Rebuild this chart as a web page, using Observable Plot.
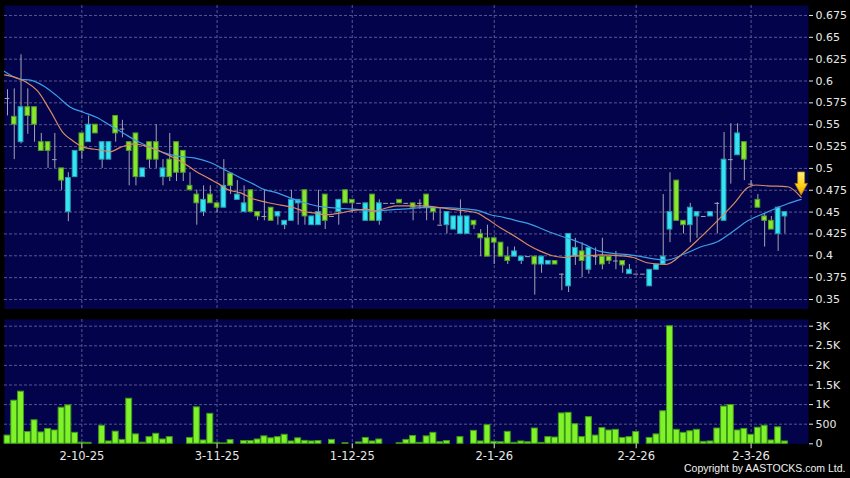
<!DOCTYPE html>
<html><head><meta charset="utf-8">
<script src="https://cdn.jsdelivr.net/npm/d3@7"></script>
<script src="https://cdn.jsdelivr.net/npm/@observablehq/plot@0.6"></script>
<style>
html,body{margin:0;padding:0;background:#000;}
#chart{position:relative;width:850px;height:478px;overflow:hidden;background:#000;}
#chart svg{display:block;}
</style></head><body><div id="chart"></div>
<script>
const dates = [
"16-9-25","17-9-25","18-9-25","19-9-25","22-9-25","23-9-25","24-9-25","25-9-25","26-9-25","29-9-25","30-9-25",
"2-10-25","3-10-25","6-10-25","8-10-25","9-10-25","10-10-25","13-10-25","14-10-25","15-10-25","16-10-25","17-10-25","20-10-25","21-10-25","22-10-25","23-10-25","24-10-25","27-10-25","28-10-25","30-10-25","31-10-25",
"3-11-25","4-11-25","5-11-25","6-11-25","7-11-25","10-11-25","11-11-25","12-11-25","13-11-25","14-11-25","17-11-25","18-11-25","19-11-25","20-11-25","21-11-25","24-11-25","25-11-25","26-11-25","27-11-25","28-11-25",
"1-12-25","2-12-25","3-12-25","4-12-25","5-12-25","8-12-25","9-12-25","10-12-25","11-12-25","12-12-25","15-12-25","16-12-25","17-12-25","18-12-25","19-12-25","22-12-25","23-12-25","24-12-25","29-12-25","30-12-25","31-12-25",
"2-1-26","5-1-26","6-1-26","7-1-26","8-1-26","9-1-26","12-1-26","13-1-26","14-1-26","15-1-26","16-1-26","19-1-26","20-1-26","21-1-26","22-1-26","23-1-26","26-1-26","27-1-26","28-1-26","29-1-26","30-1-26",
"2-2-26","3-2-26","4-2-26","5-2-26","6-2-26","9-2-26","10-2-26","11-2-26","12-2-26","13-2-26","16-2-26","20-2-26","23-2-26","24-2-26","25-2-26","26-2-26","27-2-26",
"2-3-26","3-3-26","4-3-26","5-3-26","6-3-26","9-3-26"];

const open = [
0.58,0.559,0.53,0.57,0.57,0.53,0.53,0.51,0.50,0.45,
0.49,0.54,0.53,0.55,0.51,0.51,0.56,0.545,0.53,0.54,
0.49,0.53,0.53,0.49,0.51,0.53,0.52,0.48,0.47,0.45,
0.47,0.46,0.455,0.494,0.464,0.45,0.475,0.45,0.445,0.455,
0.445,0.435,0.44,0.46,0.475,0.435,0.435,0.47,0.445,0.45,
0.475,0.464,0.46,0.44,0.47,0.44,0.46,0.46,0.464,0.46,
0.46,0.46,0.47,0.455,0.435,0.435,0.43,0.425,0.425,0.44,
0.425,0.42,0.42,0.415,0.399,0.399,0.394,0.399,0.399,0.39,
0.39,0.394,0.379,0.365,0.399,0.405,0.384,0.399,0.399,0.399,
0.394,0.394,0.379,0.379,0.379,0.365,0.384,0.39,0.43,0.486,
0.44,0.435,0.445,0.445,0.445,0.46,0.44,0.51,0.515,0.53,
0.482,0.464,0.445,0.44,0.425,0.445];
const close = [
0.58,0.55,0.57,0.56,0.55,0.52,0.52,0.51,0.486,0.489,
0.52,0.52,0.55,0.54,0.53,0.53,0.54,0.545,0.52,0.49,
0.50,0.51,0.51,0.50,0.49,0.495,0.495,0.475,0.46,0.464,
0.46,0.455,0.48,0.48,0.47,0.46,0.45,0.445,0.445,0.44,
0.45,0.44,0.464,0.464,0.445,0.445,0.45,0.44,0.445,0.464,
0.46,0.46,0.46,0.46,0.44,0.46,0.46,0.46,0.46,0.46,
0.455,0.46,0.455,0.45,0.435,0.45,0.445,0.445,0.445,0.435,
0.42,0.399,0.415,0.399,0.394,0.405,0.399,0.399,0.39,0.399,
0.394,0.39,0.379,0.425,0.409,0.394,0.409,0.399,0.39,0.394,
0.394,0.389,0.384,0.379,0.379,0.384,0.39,0.399,0.45,0.44,
0.435,0.455,0.45,0.445,0.45,0.46,0.51,0.51,0.54,0.51,
0.482,0.455,0.44,0.43,0.455,0.45];
const high = [
0.59,0.591,0.63,0.591,0.57,0.54,0.53,0.54,0.50,0.495,
0.52,0.54,0.56,0.55,0.53,0.53,0.56,0.555,0.53,0.54,
0.50,0.53,0.55,0.51,0.54,0.53,0.52,0.495,0.475,0.48,
0.48,0.46,0.51,0.494,0.486,0.48,0.475,0.45,0.475,0.455,
0.45,0.44,0.475,0.464,0.475,0.445,0.475,0.47,0.445,0.464,
0.475,0.464,0.46,0.46,0.47,0.464,0.46,0.46,0.464,0.46,
0.46,0.464,0.47,0.455,0.455,0.45,0.445,0.464,0.445,0.44,
0.43,0.435,0.42,0.415,0.41,0.41,0.399,0.399,0.399,0.399,
0.394,0.394,0.379,0.425,0.42,0.415,0.409,0.409,0.42,0.399,
0.405,0.394,0.39,0.379,0.379,0.384,0.39,0.47,0.495,0.486,
0.44,0.46,0.45,0.445,0.45,0.461,0.541,0.551,0.551,0.53,
0.486,0.47,0.448,0.445,0.456,0.45];
const low = [
0.56,0.51,0.528,0.539,0.53,0.52,0.50,0.50,0.475,0.439,
0.49,0.51,0.53,0.54,0.50,0.51,0.53,0.535,0.48,0.48,
0.49,0.50,0.50,0.48,0.485,0.485,0.485,0.475,0.435,0.445,
0.46,0.449,0.455,0.47,0.464,0.45,0.45,0.44,0.44,0.44,
0.435,0.43,0.44,0.435,0.435,0.435,0.435,0.43,0.445,0.435,
0.46,0.449,0.46,0.44,0.44,0.435,0.46,0.46,0.46,0.46,
0.44,0.453,0.44,0.44,0.435,0.425,0.43,0.425,0.425,0.43,
0.399,0.399,0.39,0.399,0.39,0.399,0.39,0.399,0.355,0.38,
0.39,0.39,0.36,0.358,0.389,0.375,0.379,0.389,0.384,0.39,
0.384,0.38,0.379,0.379,0.379,0.365,0.384,0.39,0.415,0.44,
0.425,0.415,0.42,0.445,0.445,0.425,0.44,0.482,0.515,0.486,
0.48,0.455,0.41,0.43,0.405,0.425];
const volume = [
210,1100,1330,300,600,290,380,340,920,980,
280,30,25,0,460,60,310,100,1150,240,
30,170,255,110,170,0,0,150,930,85,
765,25,10,95,0,70,70,110,190,140,
170,230,60,140,75,60,70,0,100,0,
15,0,35,150,60,110,0,0,15,100,
200,25,190,280,40,70,0,170,0,330,
60,475,50,40,305,25,60,40,390,25,
170,160,775,790,500,170,680,210,400,340,
357,150,170,300,0,150,240,830,3000,357,
280,320,357,50,60,390,950,990,340,380,
230,410,460,85,420,60];

// moving averages: [bar position, value]
const ma10Pos = [-0.44,1.9,2.9,4.4,6.4,8.3,9.6,11.3,13.8,15.2,16.7,18.7,20.2,22.1,24.1,26.1,27.6,29.9,31.3,32.5,34.5,36.4,38.4,40.4,42.4,43.8,45.3,47.3,49.3,51.2,53.2,54.2,56.2,57.6,61.1,64.1,66.0,68.0,69.5,71.0,72.9,74.9,76.9,78.9,80.6,82.6,83.8,85.8,87.7,90.7,92.6,94.6,97.4,100.1,102.5,105.0,107.5,109.5,110.6,112.4,115.4,117.4];
const ma10Val = [0.607,0.602,0.598,0.589,0.565,0.540,0.532,0.524,0.521,0.519,0.524,0.528,0.526,0.521,0.514,0.506,0.498,0.488,0.482,0.476,0.472,0.465,0.461,0.458,0.455,0.451,0.449,0.447,0.449,0.452,0.453,0.451,0.455,0.457,0.457,0.455,0.453,0.451,0.449,0.442,0.432,0.423,0.413,0.405,0.400,0.398,0.400,0.400,0.401,0.400,0.398,0.392,0.390,0.404,0.421,0.440,0.460,0.478,0.481,0.480,0.479,0.467];
const ma20Pos = [-0.44,1.9,3.4,5.4,7.3,9.3,11.3,13.3,15.2,17.2,19.2,21.2,23.1,25.1,27.6,29.9,32.5,34.5,36.4,37.9,39.9,41.9,43.8,45.8,47.8,49.8,51.7,53.7,55.7,57.6,59.6,61.1,64.1,67.0,69.5,71.4,73.4,75.4,77.4,79.3,81.3,83.3,85.3,87.7,92.6,97.4,100.1,102.5,105.0,107.5,109.5,112.4,115.4,117.4];
const ma20Val = [0.611,0.602,0.601,0.594,0.583,0.570,0.564,0.558,0.549,0.540,0.531,0.524,0.518,0.514,0.512,0.507,0.497,0.489,0.482,0.476,0.472,0.466,0.461,0.457,0.455,0.454,0.453,0.451,0.452,0.453,0.454,0.455,0.455,0.454,0.452,0.447,0.444,0.440,0.436,0.430,0.424,0.419,0.413,0.405,0.4005,0.395,0.402,0.410,0.416,0.429,0.440,0.450,0.4596,0.4645];

const priceTicks = [0.35,0.375,0.4,0.425,0.45,0.475,0.5,0.525,0.55,0.575,0.6,0.625,0.65,0.675];
const priceTickLabels = ["0.35","0.375","0.4","0.425","0.45","0.475","0.5","0.525","0.55","0.575","0.6","0.625","0.65","0.675"];
const volTicks = [0,500,1000,1500,2000,2500,3000];
const volTickLabels = ["0","500","1K","1.5K","2K","2.5K","3K"];
const dateTicks = ["2-10-25","3-11-25","1-12-25","2-1-26","2-2-26","2-3-26"];
const copyright = "Copyright by AASTOCKS.com Ltd.";
const arrowMark = {pos: 117.4, value: 0.4828};

const rows = dates.map((d, i) => ({i, date: d, o: open[i], h: high[i], l: low[i], c: close[i], v: volume[i]}));
const bodies = rows.filter(d => d.o !== d.c);
const dojis = rows.filter(d => d.o === d.c);
const tickIdx = dateTicks.map(t => dates.indexOf(t));
const ma10 = ma10Pos.map((p, k) => ({p, v: ma10Val[k]}));
const ma20 = ma20Pos.map((p, k) => ({p, v: ma20Val[k]}));

const W = 850;
const xDomain = [-0.444, 118.49];
const navy = "#03034c";
const grid = "#56568e";
const wick = "#a4a4b4";
const upFill = "#33e4f4", upStroke = "#2a9fb0";
const dnFill = "#86e82c", dnStroke = "#579a2a";
const font = "DejaVu Sans, Verdana, sans-serif";
const hw = 0.35;

const arrowSymbol = {
  draw(ctx, size) {
    const r = Math.sqrt(size / Math.PI);
    ctx.moveTo(-0.3 * r, -r);
    ctx.lineTo(0.3 * r, -r);
    ctx.lineTo(0.3 * r, 0);
    ctx.lineTo(0.55 * r, 0);
    ctx.lineTo(0, r);
    ctx.lineTo(-0.55 * r, 0);
    ctx.lineTo(-0.3 * r, 0);
    ctx.closePath();
  }
};

const price = Plot.plot({
  width: W, height: 312,
  marginLeft: 4, marginRight: 42, marginTop: 5, marginBottom: 3.5,
  style: {background: "transparent", color: "#e8e8e8", fontFamily: font, fontSize: "11px"},
  x: {domain: xDomain, axis: null},
  y: {domain: [0.3391, 0.6864], axis: null},
  marks: [
    Plot.frame({fill: navy}),
    Plot.ruleY(priceTicks, {stroke: grid, strokeDasharray: "3,2"}),
    Plot.ruleX(tickIdx, {stroke: grid, strokeDasharray: "3,2"}),
    Plot.ruleX(rows, {x: "i", y1: "l", y2: "h", stroke: wick, strokeWidth: 1}),
    Plot.rect(bodies, {
      x1: d => d.i - hw, x2: d => d.i + hw, y1: "o", y2: "c",
      fill: d => d.c > d.o ? upFill : dnFill,
      stroke: d => d.c > d.o ? upStroke : dnStroke, strokeWidth: 1
    }),
    Plot.ruleY(dojis, {y: "c", x1: d => d.i - hw, x2: d => d.i + hw, stroke: wick, strokeWidth: 1}),
    Plot.line(ma20, {x: "p", y: "v", stroke: "#3c9ee6", strokeWidth: 1.2, curve: "monotone-x"}),
    Plot.line(ma10, {x: "p", y: "v", stroke: "#d98a62", strokeWidth: 1.2, curve: "monotone-x"}),
    Plot.dot([arrowMark], {x: "pos", y: "value", symbol: arrowSymbol, r: 11.5, fill: "url(#arrowGrad)", stroke: "#b88000", strokeWidth: 0.8}),
    Plot.axisY({anchor: "right", ticks: priceTicks, tickFormat: d => priceTickLabels[priceTicks.indexOf(d)], tickSize: 4, tickPadding: 3, fontSize: 11, label: null, color: "#e8e8e8"})
  ]
});

const vol = Plot.plot({
  width: W, height: 166,
  marginLeft: 4, marginRight: 42, marginTop: 7, marginBottom: 34.7,
  style: {background: "transparent", color: "#e8e8e8", fontFamily: font, fontSize: "11px"},
  x: {domain: xDomain, axis: null},
  y: {domain: [0, 3171], axis: null},
  marks: [
    Plot.frame({fill: navy}),
    Plot.ruleY(volTicks.filter(v => v > 0), {stroke: grid, strokeDasharray: "3,2"}),
    Plot.ruleX(tickIdx, {stroke: grid, strokeDasharray: "3,2"}),
    Plot.rect(rows.filter(d => d.v > 0), {
      x1: d => d.i - 0.44, x2: d => d.i + 0.44, y1: 0, y2: "v",
      fill: "#80f22a", stroke: "#3d9a18", strokeWidth: 1
    }),
    Plot.axisY({anchor: "right", ticks: volTicks, tickFormat: d => volTickLabels[volTicks.indexOf(d)], tickSize: 4, tickPadding: 3, fontSize: 11, label: null, color: "#e8e8e8"}),
    Plot.axisX({anchor: "bottom", ticks: tickIdx, tickFormat: i => dates[i], tickSize: 5, tickPadding: 3, fontSize: 11.5, label: null, color: "#e8e8e8"}),
    Plot.text([copyright], {frameAnchor: "bottom-right", dx: 37, dy: 28.5, fontSize: 10.5, fontFamily: "Liberation Sans, Arial, sans-serif", fill: "#f0f0f0", textAnchor: "end"})
  ]
});

// gradient for the marker arrow
const defs = d3.select(price).insert("defs", ":first-child");
const g = defs.append("linearGradient").attr("id", "arrowGrad").attr("x1", 0).attr("y1", 0).attr("x2", 0).attr("y2", 1);
g.append("stop").attr("offset", "0%").attr("stop-color", "#fff27a");
g.append("stop").attr("offset", "55%").attr("stop-color", "#ffd21a");
g.append("stop").attr("offset", "100%").attr("stop-color", "#f0a000");

const chart = document.getElementById("chart");
chart.appendChild(price);
chart.appendChild(vol);
</script>
</body></html>
